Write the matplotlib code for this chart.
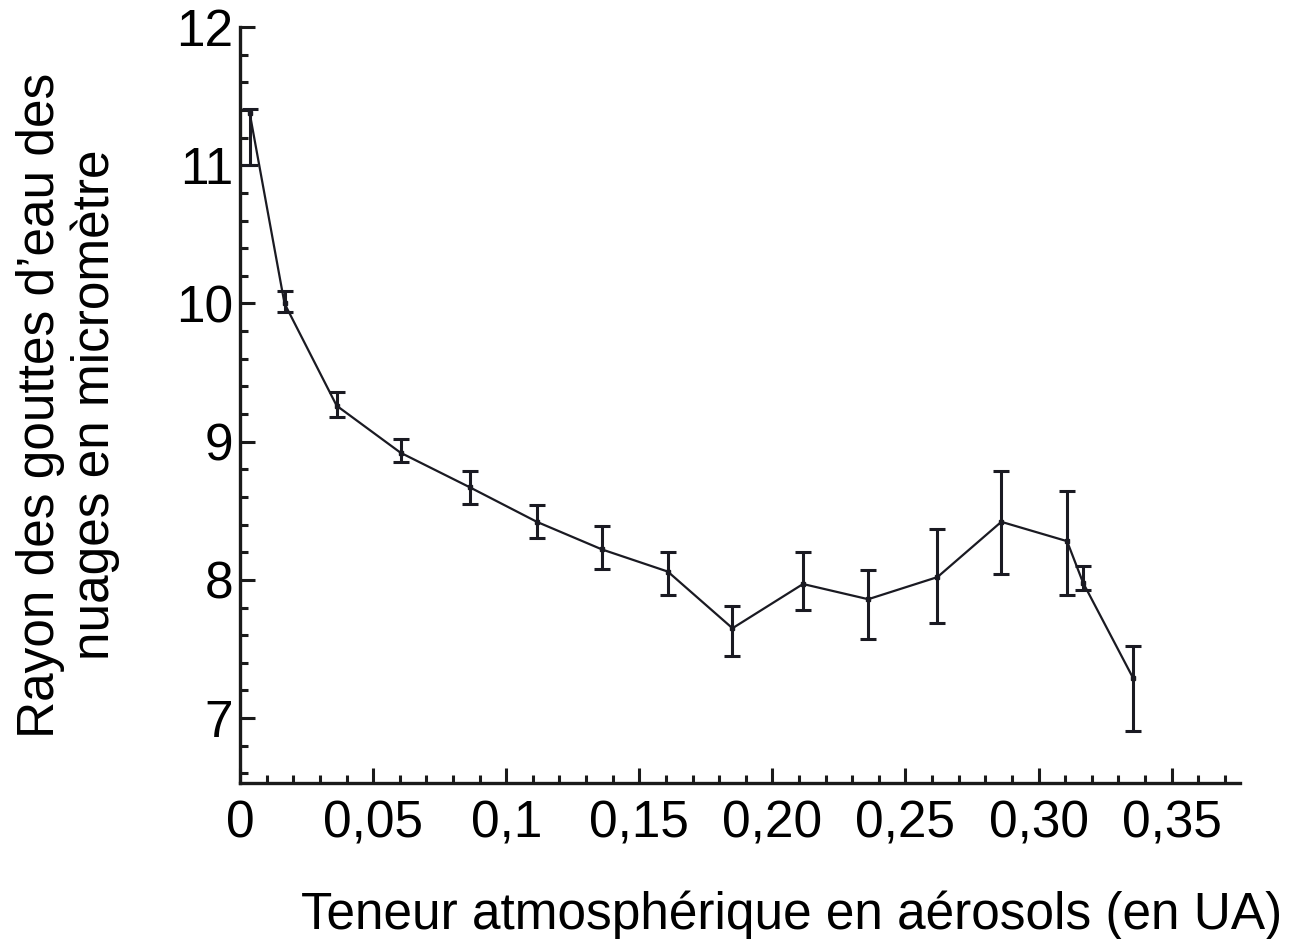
import matplotlib
matplotlib.use("Agg")
import matplotlib.pyplot as plt
from matplotlib.ticker import MultipleLocator, FixedLocator

plt.rcParams['font.family'] = ['Liberation Sans', 'DejaVu Sans']

# teneur en aerosols (UA) et rayon des gouttes (micrometre)
aod = [0.0036, 0.0167, 0.0363, 0.0603, 0.0863, 0.1115, 0.136, 0.1607,
       0.185, 0.2115, 0.236, 0.262, 0.286, 0.3107, 0.3167, 0.3355]
rayon = [11.38, 10.0, 9.26, 8.92, 8.67, 8.42, 8.22, 8.06,
         7.65, 7.97, 7.86, 8.02, 8.42, 8.28, 7.98, 7.29]
err_bas = [0.38, 0.06, 0.08, 0.07, 0.12, 0.12, 0.14, 0.17,
           0.20, 0.19, 0.29, 0.33, 0.38, 0.39, 0.05, 0.38]
err_haut = [0.03, 0.09, 0.10, 0.10, 0.12, 0.12, 0.17, 0.14,
            0.16, 0.23, 0.21, 0.35, 0.37, 0.36, 0.12, 0.23]

x_ticks = [0, 0.05, 0.1, 0.15, 0.20, 0.25, 0.30, 0.35]
x_labels = ['0', '0,05', '0,1', '0,15', '0,20', '0,25', '0,30', '0,35']
y_ticks = [7, 8, 9, 10, 11, 12]

fig = plt.figure(figsize=(12.92, 9.39), dpi=100)
ax = fig.add_axes([0.1858, 0.1661, 0.774, 0.8051])

ax.errorbar(aod, rayon, yerr=[err_bas, err_haut], color='#1a1a22', lw=1.6,
            elinewidth=2.2, capsize=6, capthick=2.2, marker='s', ms=3)

ax.set_xlim(0, 0.3757)
ax.set_ylim(6.53, 12.0)

ax.xaxis.set_major_locator(FixedLocator(x_ticks))
ax.set_xticklabels(x_labels)
ax.xaxis.set_minor_locator(MultipleLocator(0.01))
ax.yaxis.set_major_locator(FixedLocator(y_ticks))
ax.yaxis.set_minor_locator(MultipleLocator(0.2))

for s in ['top', 'right']:
    ax.spines[s].set_visible(False)
for s in ['left', 'bottom']:
    ax.spines[s].set_linewidth(2.4)
    ax.spines[s].set_color('#1a1a1a')

ax.tick_params(which='both', direction='in', width=2.2, color='#1a1a1a')
ax.tick_params(which='major', length=11, labelsize=37)
ax.tick_params(which='minor', length=6)
ax.tick_params(axis='x', pad=12)
ax.tick_params(axis='y', pad=5)

fig.text(68 / 1292, 1 - 405 / 939, "Rayon des gouttes d\u2019eau des\nnuages en microm\u00e8tre",
         rotation=90, ha='center', va='center', ma='center', fontsize=37,
         linespacing=1.15)
fig.text(1282 / 1292, 0.0106, "Teneur atmosph\u00e9rique en a\u00e9rosols (en UA)",
         ha='right', va='baseline', fontsize=37)

fig.savefig('out.png', dpi=100)
